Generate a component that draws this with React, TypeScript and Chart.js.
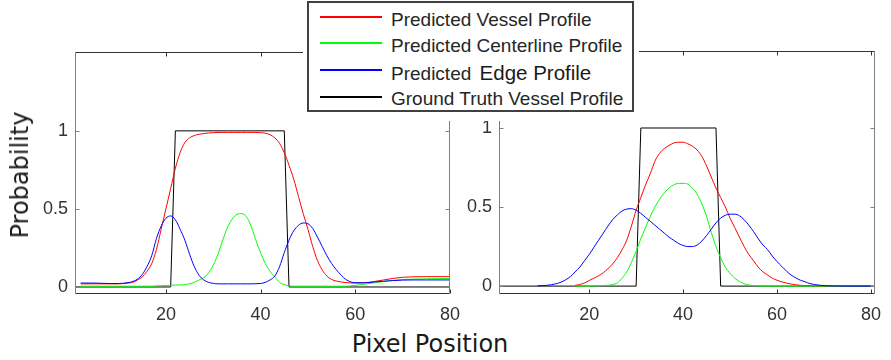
import React, { useEffect, useRef } from "react";
import { Chart, registerables } from "chart.js";

Chart.register(...registerables);

// ---------- data ----------
const seriesLabels = [
  "Predicted Vessel Profile",
  "Predicted Centerline Profile",
  "Predicted Edge Profile",
  "Ground Truth Vessel Profile",
];
const seriesColors = ["#ff0000", "#00ff00", "#0000ff", "#000000"];

const xTickValues = [20, 40, 60, 80];
const yTickValues = [0, 0.5, 1];

// left panel
const leftPositions = [2, 5, 8, 10, 12, 13, 14, 15, 16, 17, 18, 19, 20, 21, 22, 23, 24, 25, 26, 27, 28, 29, 30, 31, 32, 33, 34, 35, 36, 37, 38, 39, 40, 41, 42, 43, 44, 45, 46, 47, 48, 49, 50, 51, 52, 53, 54, 55, 56, 57, 58, 59, 60, 62, 64, 66, 68, 70, 72, 75, 80];
const leftVessel = [0.02, 0.02, 0.02, 0.02, 0.025, 0.03, 0.045, 0.065, 0.1, 0.15, 0.24, 0.37, 0.5, 0.63, 0.76, 0.86, 0.925, 0.955, 0.97, 0.978, 0.983, 0.986, 0.988, 0.99, 0.99, 0.99, 0.99, 0.99, 0.99, 0.99, 0.99, 0.99, 0.988, 0.985, 0.975, 0.955, 0.92, 0.86, 0.78, 0.69, 0.58, 0.47, 0.37, 0.26, 0.17, 0.11, 0.07, 0.048, 0.038, 0.032, 0.028, 0.026, 0.025, 0.027, 0.035, 0.045, 0.055, 0.062, 0.065, 0.066, 0.066];
const leftCenterline = [0.005, 0.005, 0.005, 0.005, 0.005, 0.005, 0.005, 0.005, 0.005, 0.005, 0.007, 0.008, 0.01, 0.011, 0.012, 0.013, 0.015, 0.02, 0.03, 0.045, 0.06, 0.09, 0.14, 0.21, 0.3, 0.38, 0.435, 0.465, 0.47, 0.45, 0.39, 0.3, 0.22, 0.15, 0.1, 0.065, 0.03, 0.015, 0.007, 0.005, 0.005, 0.005, 0.005, 0.005, 0.005, 0.005, 0.005, 0.005, 0.005, 0.005, 0.005, 0.007, 0.01, 0.018, 0.027, 0.035, 0.042, 0.048, 0.05, 0.052, 0.054];
const leftEdge = [0.025, 0.025, 0.022, 0.022, 0.028, 0.035, 0.05, 0.08, 0.13, 0.2, 0.31, 0.39, 0.44, 0.455, 0.43, 0.37, 0.3, 0.21, 0.13, 0.075, 0.045, 0.03, 0.023, 0.02, 0.02, 0.02, 0.02, 0.02, 0.02, 0.02, 0.02, 0.021, 0.022, 0.03, 0.045, 0.07, 0.13, 0.22, 0.3, 0.36, 0.395, 0.41, 0.405, 0.375, 0.32, 0.26, 0.2, 0.15, 0.11, 0.075, 0.048, 0.033, 0.027, 0.027, 0.032, 0.037, 0.041, 0.044, 0.045, 0.045, 0.045];
const leftTruthPositions = [0.8, 21, 22, 45, 46, 80];
const leftTruth = [0, 0, 1, 1, 0, 0];

// right panel
const rightPositions = [9, 11, 13, 14, 15, 16, 17, 18, 19, 20, 21, 22, 23, 24, 25, 26, 27, 28, 29, 30, 31, 32, 33, 34, 35, 36, 37, 38, 39, 40, 41, 42, 43, 44, 45, 46, 47, 48, 49, 50, 51, 52, 53, 54, 55, 56, 57, 58, 59, 60, 61, 62, 63, 64, 65, 66, 67, 68, 70, 72, 75, 80];
const rightVessel = [null, null, null, null, null, null, 0.005, 0.01, 0.02, 0.035, 0.05, 0.065, 0.085, 0.11, 0.14, 0.18, 0.23, 0.29, 0.38, 0.48, 0.56, 0.64, 0.71, 0.79, 0.84, 0.87, 0.89, 0.905, 0.91, 0.91, 0.9, 0.885, 0.86, 0.82, 0.76, 0.69, 0.62, 0.56, 0.5, 0.43, 0.37, 0.31, 0.25, 0.2, 0.16, 0.12, 0.09, 0.07, 0.05, 0.037, 0.027, 0.019, 0.013, 0.008, 0.005, 0.003, 0.002, 0.001, 0, 0, 0, 0];
const rightCenterline = [null, null, null, null, null, null, 0, 0, 0, 0, 0.001, 0.002, 0.003, 0.005, 0.01, 0.02, 0.05, 0.09, 0.15, 0.22, 0.3, 0.37, 0.44, 0.5, 0.55, 0.59, 0.62, 0.64, 0.65, 0.65, 0.645, 0.62, 0.58, 0.52, 0.44, 0.34, 0.25, 0.18, 0.12, 0.08, 0.05, 0.03, 0.015, 0.007, 0.003, 0.001, 0, 0, 0, 0, 0, 0, 0, 0, 0, 0, 0, 0, 0, 0, 0, 0];
const rightEdge = [0.002, 0.005, 0.015, 0.025, 0.04, 0.06, 0.09, 0.12, 0.16, 0.2, 0.245, 0.29, 0.335, 0.38, 0.42, 0.45, 0.475, 0.487, 0.49, 0.48, 0.46, 0.435, 0.41, 0.385, 0.36, 0.335, 0.31, 0.29, 0.27, 0.257, 0.25, 0.25, 0.26, 0.285, 0.32, 0.36, 0.4, 0.43, 0.448, 0.455, 0.455, 0.445, 0.42, 0.385, 0.345, 0.3, 0.26, 0.23, 0.19, 0.155, 0.125, 0.095, 0.07, 0.052, 0.037, 0.027, 0.016, 0.01, 0.003, 0.001, 0, 0];
const rightTruthPositions = [0.8, 30, 31, 47, 48, 80.8];
const rightTruth = [0, 0, 1, 1, 0, 0];

// ---------- helpers ----------
function toPoints(xs: number[], ys: (number | null)[]) {
  const out: { x: number; y: number }[] = [];
  xs.forEach((x, i) => {
    const y = ys[i];
    if (y !== null && y !== undefined) out.push({ x, y });
  });
  return out;
}

const boxPlugin = {
  id: "matlabBox",
  afterDatasetsDraw(chart: any) {
    const { ctx, chartArea: a, scales } = chart;
    const L = Math.round(a.left) + 0.5;
    const R = Math.round(a.right) - 0.5;
    const T = Math.round(a.top) + 0.5;
    const B = Math.round(a.bottom) - 0.5;
    ctx.save();
    ctx.lineWidth = 1;
    ctx.strokeStyle = "#333333";
    ctx.beginPath();
    ctx.moveTo(L, T); ctx.lineTo(R, T);
    ctx.moveTo(L, B); ctx.lineTo(R, B);
    xTickValues.forEach((v) => {
      const px = Math.round(scales.x.getPixelForValue(v)) + 0.5;
      ctx.moveTo(px, B); ctx.lineTo(px, B - 4);
      ctx.moveTo(px, T); ctx.lineTo(px, T + 4);
    });
    ctx.stroke();
    ctx.strokeStyle = "#808080";
    ctx.beginPath();
    ctx.moveTo(L, T); ctx.lineTo(L, B);
    ctx.moveTo(R, T); ctx.lineTo(R, B);
    yTickValues.forEach((v) => {
      const py = Math.round(scales.y.getPixelForValue(v)) + 0.5;
      ctx.moveTo(L, py); ctx.lineTo(L + 4, py);
      ctx.moveTo(R, py); ctx.lineTo(R - 4, py);
    });
    ctx.stroke();
    ctx.restore();
  },
};

type PanelProps = {
  left: number;
  width: number;
  padTop: number;
  padRight: number;
  yAxisWidth: number;
  xMin: number;
  xMax: number;
  yMin: number;
  yMax: number;
  positions: number[];
  vessel: (number | null)[];
  centerline: (number | null)[];
  edge: (number | null)[];
  truthPositions: number[];
  truth: number[];
};

const HEIGHT = 330;

function Panel(p: PanelProps) {
  const ref = useRef<HTMLCanvasElement | null>(null);
  useEffect(() => {
    if (!ref.current) return;
    const curve = (label: string, color: string, data: any) => ({
      label,
      data,
      borderColor: color,
      backgroundColor: color,
      borderWidth: 1,
      pointRadius: 0,
      fill: false,
      cubicInterpolationMode: "monotone" as const,
    });
    const chart = new Chart(ref.current, {
      type: "line",
      data: {
        datasets: [
          curve(seriesLabels[2], seriesColors[2], toPoints(p.positions, p.edge)),
          curve(seriesLabels[1], seriesColors[1], toPoints(p.positions, p.centerline)),
          curve(seriesLabels[0], seriesColors[0], toPoints(p.positions, p.vessel)),
          {
            label: seriesLabels[3],
            data: toPoints(p.truthPositions, p.truth),
            borderColor: seriesColors[3],
            backgroundColor: seriesColors[3],
            borderWidth: 1,
            pointRadius: 0,
            fill: false,
            tension: 0,
          },
        ],
      },
      options: {
        animation: false,
        responsive: false,
        devicePixelRatio: 1,
        layout: { padding: { top: p.padTop, right: p.padRight, left: 0, bottom: 0 } },
        plugins: { legend: { display: false }, tooltip: { enabled: false } },
        scales: {
          x: {
            type: "linear",
            min: p.xMin,
            max: p.xMax,
            grid: { display: false, drawTicks: false },
            border: { display: false },
            afterBuildTicks: (s: any) => {
              s.ticks = xTickValues.map((v) => ({ value: v }));
            },
            afterFit: (s: any) => {
              s.height = HEIGHT - 294;
            },
            ticks: {
              padding: 10,
              maxRotation: 0,
              autoSkip: false,
              color: "#333333",
              font: { family: "'Liberation Sans', Arial, sans-serif", size: 18 },
              callback: (v: any) => String(v),
            },
          },
          y: {
            type: "linear",
            min: p.yMin,
            max: p.yMax,
            grid: { display: false, drawTicks: false },
            border: { display: false },
            afterBuildTicks: (s: any) => {
              s.ticks = yTickValues.map((v) => ({ value: v }));
            },
            afterFit: (s: any) => {
              s.width = p.yAxisWidth;
            },
            ticks: {
              padding: 7,
              autoSkip: false,
              color: "#333333",
              font: { family: "'Liberation Sans', Arial, sans-serif", size: 18 },
              callback: (v: any) => String(v),
            },
          },
        },
      },
      plugins: [boxPlugin],
    });
    return () => chart.destroy();
  }, []);
  return (
    <canvas
      ref={ref}
      width={p.width}
      height={HEIGHT}
      style={{ position: "absolute", left: p.left, top: 0, width: p.width, height: HEIGHT }}
    />
  );
}

const legendRows = [
  { lineY: 17, textTop: 10 },
  { lineY: 43, textTop: 36 },
  { lineY: 70, textTop: 63 },
  { lineY: 97, textTop: 89 },
];

export default function App() {
  const textFont = "'Liberation Sans', Arial, sans-serif";
  return (
    <div style={{ position: "absolute", left: 0, top: 0, width: 891, height: 360, background: "#ffffff", overflow: "hidden" }}>
      <Panel
        left={0}
        width={470}
        padTop={52}
        padRight={11}
        yAxisWidth={75}
        xMin={0.8}
        xMax={80}
        yMin={-0.045}
        yMax={1.505}
        positions={leftPositions}
        vessel={leftVessel}
        centerline={leftCenterline}
        edge={leftEdge}
        truthPositions={leftTruthPositions}
        truth={leftTruth}
      />
      <Panel
        left={460}
        width={431}
        padTop={51}
        padRight={4}
        yAxisWidth={39}
        xMin={0.8}
        xMax={80.8}
        yMin={-0.05}
        yMax={1.487}
        positions={rightPositions}
        vessel={rightVessel}
        centerline={rightCenterline}
        edge={rightEdge}
        truthPositions={rightTruthPositions}
        truth={rightTruth}
      />
      <div
        style={{
          position: "absolute",
          left: 20,
          top: 175,
          transform: "translate(-50%, -50%) rotate(-90deg)",
          fontFamily: "'DejaVu Sans', sans-serif",
          fontSize: 24,
          lineHeight: "24px",
          whiteSpace: "nowrap",
          color: "#1a1a1a",
        }}
      >
        Probability
      </div>
      <div
        style={{
          position: "absolute",
          left: 430,
          top: 344,
          transform: "translate(-50%, -50%)",
          fontFamily: "'DejaVu Sans', sans-serif",
          fontSize: 24,
          lineHeight: "24px",
          whiteSpace: "nowrap",
          color: "#1a1a1a",
        }}
      >
        Pixel Position
      </div>
      <div style={{ position: "absolute", left: 303, top: 0, width: 336, height: 121, background: "#ffffff" }} />
      <div
        style={{
          position: "absolute",
          left: 307,
          top: 1,
          width: 327,
          height: 111,
          boxSizing: "border-box",
          border: "2px solid #404040",
          background: "#ffffff",
        }}
      />
      {legendRows.map((r, i) => (
        <React.Fragment key={i}>
          <div
            style={{
              position: "absolute",
              left: 320,
              top: r.lineY - 1,
              width: 62,
              height: 2,
              background: seriesColors[i],
            }}
          />
          <div
            style={{
              position: "absolute",
              left: 391,
              top: r.textTop,
              fontFamily: textFont,
              fontSize: 19,
              lineHeight: "19px",
              whiteSpace: "nowrap",
              color: "#262626",
            }}
          >
            {i === 2 ? (
              <>
                Predicted{" "}
                <span style={{ fontSize: 20.5, color: "#1a1a1a", marginLeft: 3 }}>Edge Profile</span>
              </>
            ) : (
              seriesLabels[i]
            )}
          </div>
        </React.Fragment>
      ))}
    </div>
  );
}
